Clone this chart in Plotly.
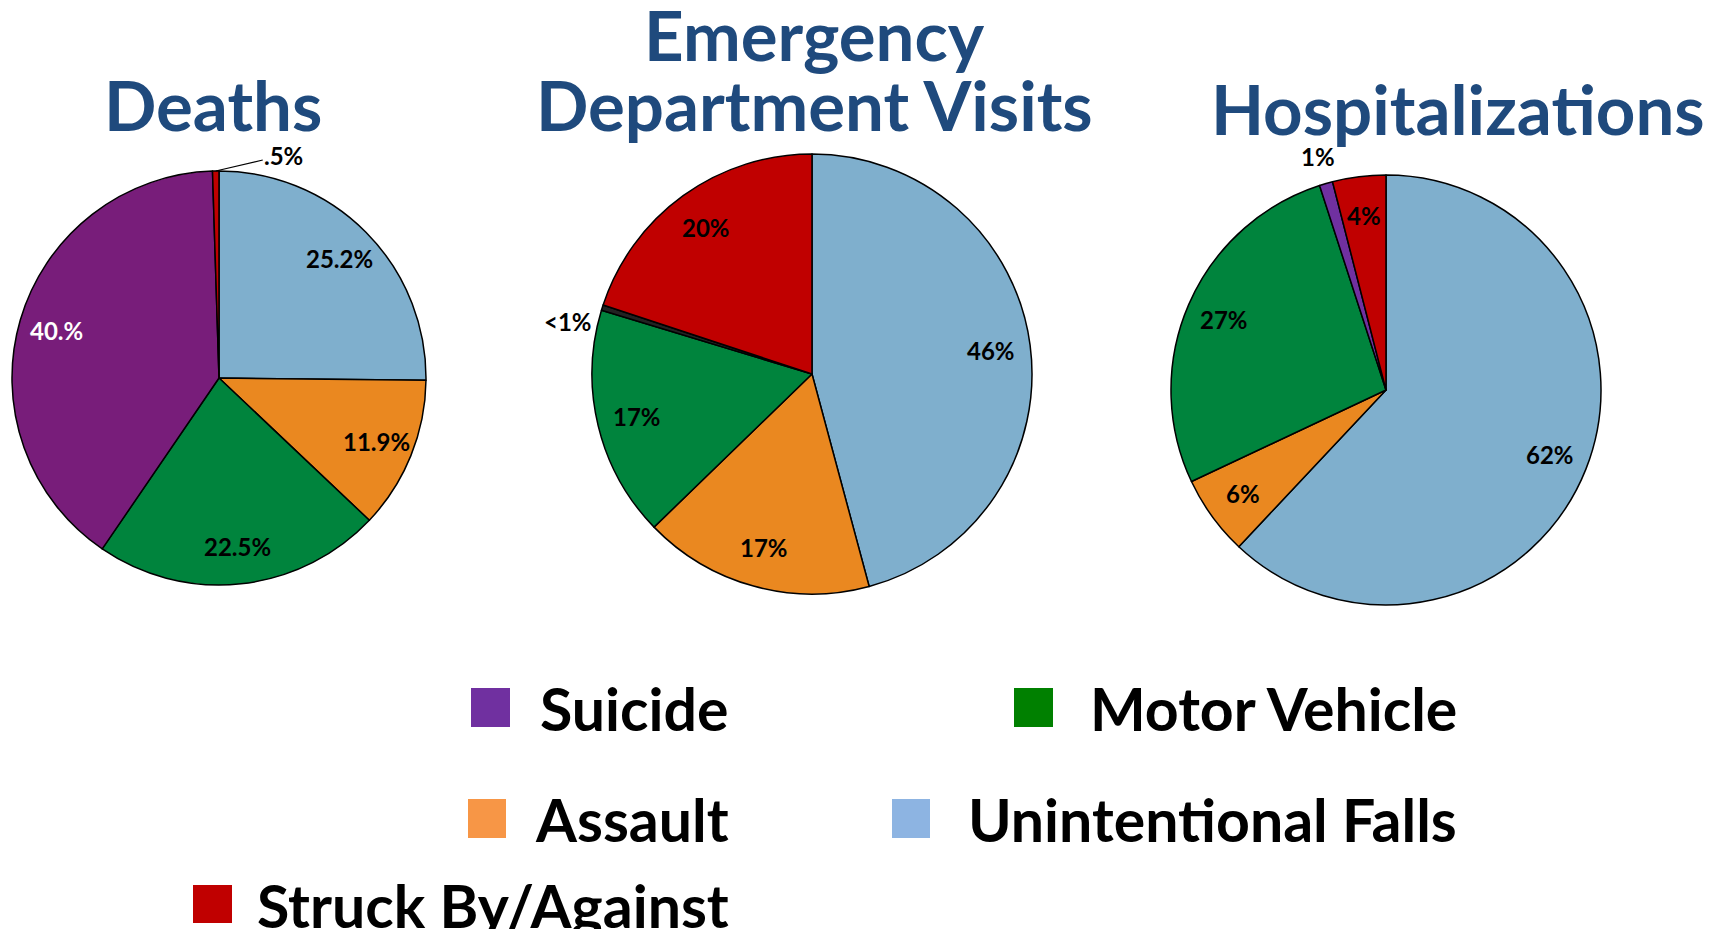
import math
import plotly.graph_objects as go

W, H = 1714, 937          # browser window (page pixels)
PAGE_MARGIN = 8           # default body margin of the written html page
FW, FH = W - 2 * PAGE_MARGIN, H - 2 * PAGE_MARGIN   # figure size

# ---------------- data ----------------
CATEGORIES = ["Unintentional Falls", "Assault", "Motor Vehicle", "Suicide", "Struck By/Against"]

DEATHS_VALUES = [25.2, 11.9, 22.5, 40.0, 0.5]
DEATHS_TEXT = ["25.2%", "11.9%", "22.5%", "40.%", ".5%"]

ED_VALUES = [46, 17, 17, 0.4, 20]
ED_TEXT = ["46%", "17%", "17%", "<1%", "20%"]

HOSP_VALUES = [62, 6, 27, 1, 4]
HOSP_TEXT = ["62%", "6%", "27%", "1%", "4%"]

TITLES = ["Deaths", "Emergency Department Visits", "Hospitalizations"]

LEGEND_NAMES = ["Suicide", "Motor Vehicle", "Assault", "Unintentional Falls", "Struck By/Against"]

# ---------------- styles ----------------
FONT = "Lato"
TITLE_COLOR = "#1F4A7D"
SLICE_COLORS_DEATHS = ["#7FAFCD", "#EA8820", "#00843D", "#781D7A", "#C00000"]
SLICE_COLORS_ED = ["#7FAFCD", "#EA8820", "#00843D", "#222222", "#C00000"]
SLICE_COLORS_HOSP = ["#7FAFCD", "#EA8820", "#00843D", "#7030A0", "#C00000"]
LEGEND_COLORS = ["#7030A0", "#008000", "#F79646", "#8DB4E2", "#C00000"]

# pie geometry in page pixels: centre x, centre y, radius
PIES = [
    dict(values=DEATHS_VALUES, text=DEATHS_TEXT, colors=SLICE_COLORS_DEATHS, cx=219, cy=378, r=207),
    dict(values=ED_VALUES, text=ED_TEXT, colors=SLICE_COLORS_ED, cx=812, cy=374, r=220),
    dict(values=HOSP_VALUES, text=HOSP_TEXT, colors=SLICE_COLORS_HOSP, cx=1386, cy=390, r=215),
]
LABEL_K = 0.82
LABEL_SIZE = 24


def px_to_paper(xp, yp):
    return (xp - PAGE_MARGIN) / FW, 1 - (yp - PAGE_MARGIN) / FH


fig = go.Figure()
annotations = []
shapes = []

for pi, p in enumerate(PIES):
    cx, cy, r = p["cx"], p["cy"], p["r"]
    x0, y1 = px_to_paper(cx - r, cy - r)
    x1, y0 = px_to_paper(cx + r, cy + r)
    fig.add_trace(go.Pie(
        labels=CATEGORIES, values=p["values"], sort=False, direction="clockwise", rotation=0,
        marker=dict(colors=p["colors"], line=dict(color="black", width=1.5)),
        textinfo="none", hoverinfo="label+percent", showlegend=False,
        domain=dict(x=[x0, x1], y=[y0, y1]),
    ))
    total = sum(p["values"])
    start = 0.0
    for i, (v, t) in enumerate(zip(p["values"], p["text"])):
        mid = math.radians((start + v / 2) / total * 360)
        start += v
        small = v / total < 0.02
        font = dict(family=FONT, size=LABEL_SIZE, color="black", weight="bold")
        if not small:
            xp = cx + LABEL_K * r * math.sin(mid)
            yp = cy - LABEL_K * r * math.cos(mid)
            x, y = px_to_paper(xp, yp)
            if t == "40.%":
                font = dict(font, color="white")
            annotations.append(dict(x=x, y=y, xref="paper", yref="paper", text=t, showarrow=False,
                                    xanchor="center", yanchor="middle", font=font))
        else:
            if pi == 0:
                xp = cx + r * math.sin(mid)
                yp = cy - r * math.cos(mid)
                x, y = px_to_paper(xp, yp)
                annotations.append(dict(x=x, y=y, xref="paper", yref="paper", text=t, showarrow=True,
                                        arrowhead=0, arrowwidth=1.2, arrowcolor="black", ax=68, ay=-16,
                                        standoff=0, font=font))
            elif pi == 1:
                xp = cx + 1.04 * r * math.sin(mid)
                yp = cy - 1.04 * r * math.cos(mid)
                x, y = px_to_paper(xp, yp)
                annotations.append(dict(x=x, y=y, xref="paper", yref="paper", text=t, showarrow=False,
                                        xanchor="right", yanchor="top", font=font))
            else:
                xp = cx + 1.13 * r * math.sin(mid)
                yp = cy - 1.13 * r * math.cos(mid)
                x, y = px_to_paper(xp, yp)
                annotations.append(dict(x=x, y=y, xref="paper", yref="paper", text=t, showarrow=False,
                                        xanchor="center", yanchor="middle", font=font))

# titles
title_pos = [
    (TITLES[0], 213, 104),
    ("Emergency", 814, 34),
    ("Department Visits", 814, 104),
    (TITLES[2], 1458, 108),
]
for txt, xp, yp in title_pos:
    x, y = px_to_paper(xp, yp)
    annotations.append(dict(x=x, y=y, xref="paper", yref="paper", text=txt, showarrow=False,
                            xanchor="center", yanchor="middle",
                            font=dict(family=FONT, size=69, color=TITLE_COLOR, weight="bold")))

# legend (square + label)
legend_layout = [
    # square x0, y0, x1, y1, text right edge, text middle y
    (471, 688, 510, 727, 731, 708),
    (1014, 688, 1053, 727, 1459, 708),
    (468, 799, 506, 838, 731, 819),
    (892, 799, 930, 838, 1459, 819),
    (193, 885, 232, 923, 731, 905),
]
for name, color, (sx0, sy0, sx1, sy1, tx, ty) in zip(LEGEND_NAMES, LEGEND_COLORS, legend_layout):
    px0, py1 = px_to_paper(sx0, sy0)
    px1, py0 = px_to_paper(sx1, sy1)
    shapes.append(dict(type="rect", xref="paper", yref="paper", x0=px0, x1=px1, y0=py0, y1=py1,
                       fillcolor=color, line=dict(width=0)))
    x, y = px_to_paper(tx, ty)
    annotations.append(dict(x=x, y=y, xref="paper", yref="paper", text=name, showarrow=False,
                            xanchor="right", yanchor="middle",
                            font=dict(family=FONT, size=59, color="black", weight="bold")))

fig.update_layout(
    width=FW, height=FH, margin=dict(l=0, r=0, t=0, b=0),
    paper_bgcolor="white", plot_bgcolor="white",
    annotations=annotations, shapes=shapes, showlegend=False,
)

fig.write_html("out.html")
